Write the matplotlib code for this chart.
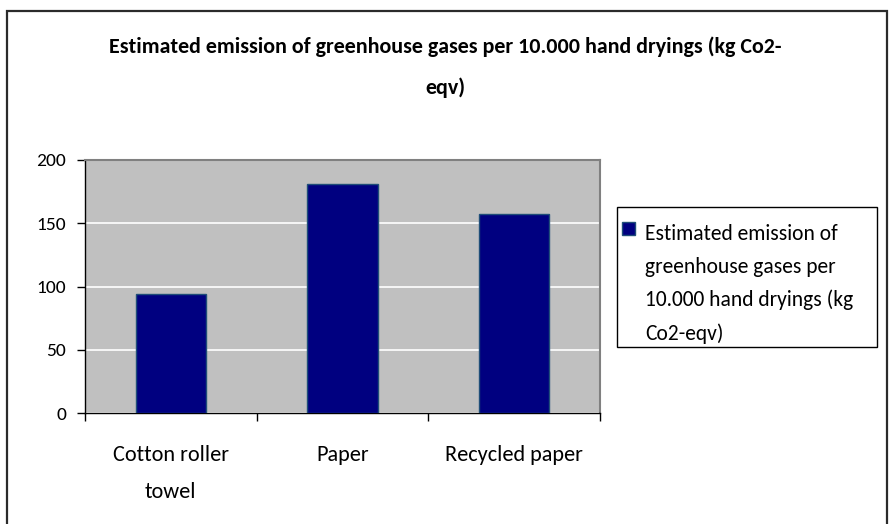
import matplotlib
matplotlib.use("Agg")
import matplotlib.pyplot as plt
from matplotlib import font_manager
from matplotlib.patches import Rectangle
from matplotlib.legend_handler import HandlerPatch

# ---- data ----
categories = ["Cotton roller towel", "Paper", "Recycled paper"]
tick_labels = ["Cotton roller\ntowel", "Paper", "Recycled paper"]
values = [94, 181, 157]
series_name = "Estimated emission of greenhouse gases per 10.000 hand dryings (kg Co2-eqv)"
legend_label = "Estimated emission of\ngreenhouse gases per\n10.000 hand dryings (kg\nCo2-eqv)"
title_text = "Estimated emission of greenhouse gases per 10.000 hand dryings (kg Co2-\neqv)"
y_ticks = [0, 50, 100, 150, 200]

available = {f.name for f in font_manager.fontManager.ttflist}
fam = [f for f in ["Carlito", "Lato", "Open Sans", "DejaVu Sans"] if f in available]
plt.rcParams['font.family'] = fam

W, H = 890, 524
fig = plt.figure(figsize=(W / 100, H / 100), dpi=100)
fig.patch.set_facecolor("white")

def fx(px):
    return px / W

def fy(py):
    return 1 - py / H

# outer chart frame
fig.patches.append(Rectangle((fx(7), fy(534)), fx(887) - fx(7), fy(11) - fy(534),
                             transform=fig.transFigure, fill=False,
                             edgecolor="#2b2b2b", linewidth=1.6))
# legend frame
fig.patches.append(Rectangle((fx(617), fy(347)), fx(877) - fx(617), fy(207) - fy(347),
                             transform=fig.transFigure, fill=True, facecolor="white",
                             edgecolor="black", linewidth=1.0))

ax = fig.add_axes([fx(85), fy(413), fx(600) - fx(85), fy(160) - fy(413)])
ax.set_facecolor("#C0C0C0")
x = list(range(len(categories)))
bars = ax.bar(x, values, width=0.41, color="#000080", edgecolor="#1F4E79",
              linewidth=1.0, label=legend_label, zorder=3)
ax.set_xlim(-0.5, len(categories) - 0.5)
ax.set_ylim(0, 200)
ax.set_yticks(y_ticks)
ax.set_yticklabels([str(v) for v in y_ticks], fontsize=14)
ax.yaxis.grid(True, color="white", linewidth=1.2, zorder=1)
ax.set_axisbelow(True)

# category boundaries as major ticks, labels at centres
ax.set_xticks([i - 0.5 for i in range(len(categories) + 1)])
ax.set_xticklabels([])
ax.set_xticks(x, minor=True)
ax.set_xticklabels(tick_labels, minor=True, fontsize=16, linespacing=2.05)
ax.tick_params(axis="x", which="minor", length=0, pad=23)
ax.tick_params(axis="x", which="major", length=6, width=1, direction="out", color="black")
ax.tick_params(axis="y", length=6, width=1, direction="out", color="black", pad=7.5)

for s in ["top", "right"]:
    ax.spines[s].set_color("#808080")
    ax.spines[s].set_linewidth(1.5)
for s in ["left", "bottom"]:
    ax.spines[s].set_color("black")
    ax.spines[s].set_linewidth(1.0)

fig.text(fx(445), fy(67.5), title_text, ha="center", va="center", fontsize=15.8,
         fontweight="bold", linespacing=2.25, transform=fig.transFigure)

LEG_FS = 15.5
LEG_LS = 1.79
shift_pt = (1.5 * 32.3 + 7.5) * 0.72


def top_patch(legend, orig_handle, xdescent, ydescent, width, height, fontsize):
    return Rectangle((-xdescent, -ydescent + shift_pt), width, height)


leg = fig.legend(handles=[bars.patches[0]], labels=[legend_label], loc="upper left",
                 bbox_to_anchor=(fx(622), fy(224)), bbox_transform=fig.transFigure,
                 borderaxespad=0, frameon=False,
                 fontsize=LEG_FS, handlelength=0.62, handleheight=0.62, handletextpad=0.45,
                 borderpad=0,
                 handler_map={Rectangle: HandlerPatch(patch_func=top_patch)})
for t in leg.get_texts():
    t.set_linespacing(LEG_LS)

fig.savefig("out.png", dpi=100, facecolor="white")
